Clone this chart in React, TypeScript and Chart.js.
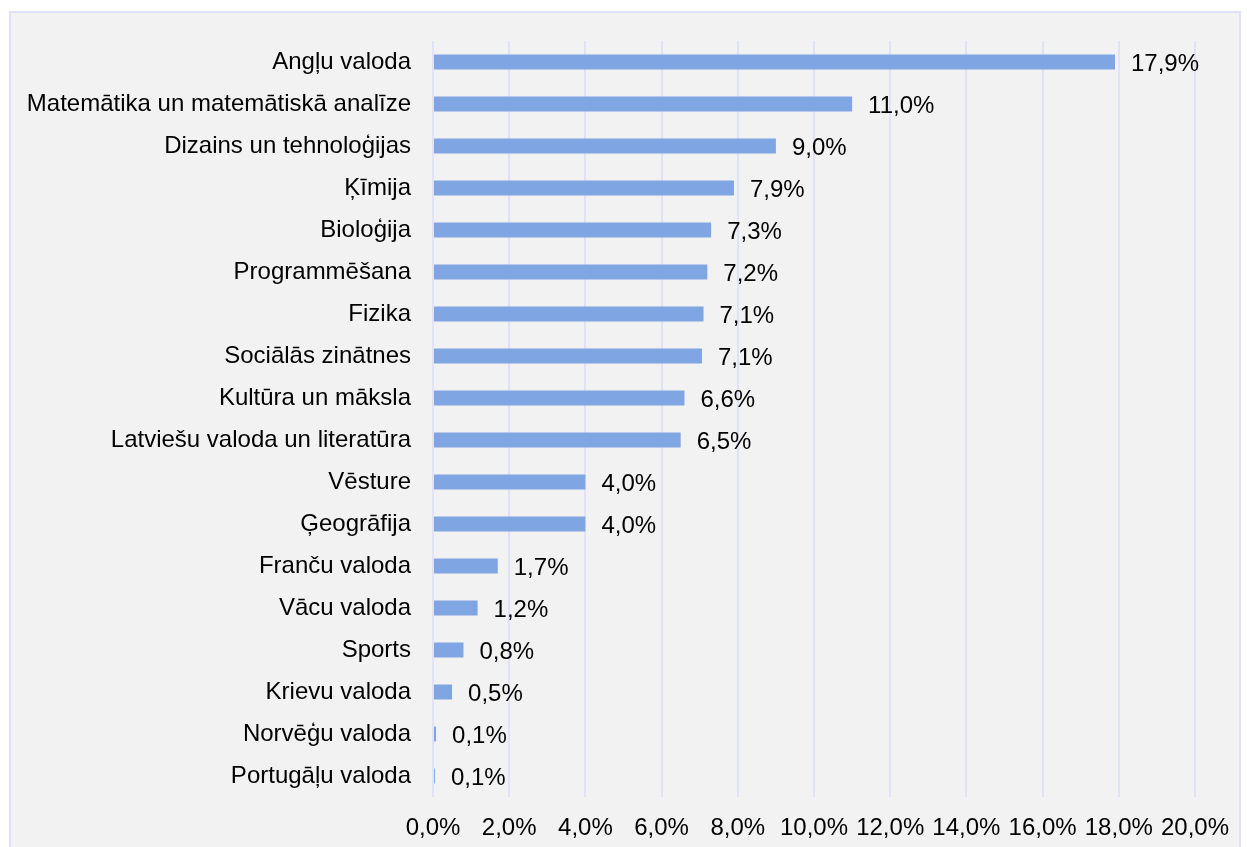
import React, { useEffect, useRef } from "react";
import { Chart, registerables } from "chart.js";

Chart.register(...registerables);

const categories = [
  "Angļu valoda",
  "Matemātika un matemātiskā analīze",
  "Dizains un tehnoloģijas",
  "Ķīmija",
  "Bioloģija",
  "Programmēšana",
  "Fizika",
  "Sociālās zinātnes",
  "Kultūra un māksla",
  "Latviešu valoda un literatūra",
  "Vēsture",
  "Ģeogrāfija",
  "Franču valoda",
  "Vācu valoda",
  "Sports",
  "Krievu valoda",
  "Norvēģu valoda",
  "Portugāļu valoda",
];

const shares = [17.9, 11.0, 9.0, 7.9, 7.3, 7.2, 7.1, 7.06, 6.6, 6.5, 4.0, 4.0, 1.7, 1.17, 0.8, 0.5, 0.08, 0.05];

const xTicks = [0, 2, 4, 6, 8, 10, 12, 14, 16, 18, 20];

const FONT = '"Liberation Sans", Arial, sans-serif';
const FS = 24;
const BAR = "#7fa5e2";
const GRID = "#e2e2f6";

const fmt = (v: number) => v.toFixed(1).replace(".", ",") + "%";

const labelPlugin = {
  id: "barLabels",
  afterDatasetsDraw(chart: any) {
    const ctx = chart.ctx;
    const meta = chart.getDatasetMeta(0);
    ctx.save();
    ctx.font = `${FS}px ${FONT}`;
    ctx.fillStyle = "#000";
    ctx.textAlign = "left";
    ctx.textBaseline = "middle";
    meta.data.forEach((el: any, i: number) => {
      ctx.fillText(fmt(shares[i]), el.x + 16, el.y + 2);
    });
    ctx.restore();
  },
};

export default function App() {
  const ref = useRef<HTMLCanvasElement>(null);
  useEffect(() => {
    document.body.style.margin = "0";
    const chart = new Chart(ref.current!, {
      type: "bar",
      data: {
        labels: categories,
        datasets: [
          {
            data: shares,
            backgroundColor: BAR,
            borderWidth: 0,
            categoryPercentage: 1,
            barPercentage: 15 / 42,
          },
        ],
      },
      options: {
        indexAxis: "y",
        animation: false,
        responsive: false,
        devicePixelRatio: 1,
        layout: { padding: { left: 0, right: 52, top: 41, bottom: 0 } },
        plugins: { legend: { display: false }, tooltip: { enabled: false } },
        scales: {
          x: {
            min: 0,
            max: 20,
            afterBuildTicks: (scale: any) => {
              scale.ticks = xTicks.map((v) => ({ value: v }));
            },
            afterFit: (scale: any) => {
              scale.height = 50;
            },
            grid: { color: GRID, lineWidth: 2, drawTicks: false },
            border: { display: false },
            ticks: {
              padding: 17,
              color: "#000",
              font: { family: FONT, size: FS },
              maxRotation: 0,
              autoSkip: false,
              callback: (v: any) => fmt(Number(v)),
            },
          },
          y: {
            afterFit: (scale: any) => {
              scale.width = 433;
            },
            grid: { display: false, drawTicks: false },
            border: { display: false },
            ticks: {
              padding: 22,
              color: "#000",
              font: { family: FONT, size: FS },
              autoSkip: false,
            },
          },
        },
      },
      plugins: [labelPlugin],
    });
    return () => chart.destroy();
  }, []);

  return (
    <div style={{ position: "relative", width: 1247, height: 847, overflow: "hidden" }}>
      <div
        style={{
          position: "absolute",
          left: 9,
          top: 11,
          width: 1232,
          height: 860,
          background: "#f2f2f2",
          border: "2px solid #e0e0f6",
          boxSizing: "border-box",
        }}
      />
      <canvas
        ref={ref}
        width={1247}
        height={847}
        style={{ position: "absolute", left: 0, top: 0, width: 1247, height: 847 }}
      />
    </div>
  );
}
